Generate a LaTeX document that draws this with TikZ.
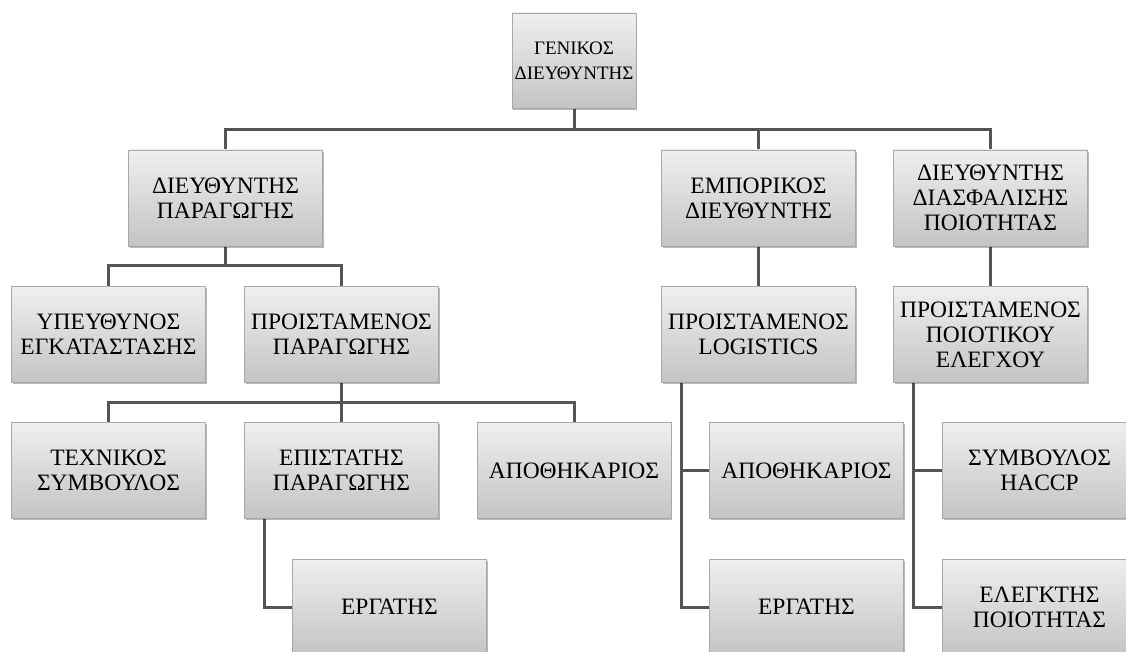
\documentclass[tikz,border=0pt]{standalone}
\usepackage{fontspec}
\setmainfont{Liberation Serif}
\usetikzlibrary{shadows,backgrounds}
\definecolor{boxtop}{HTML}{EFEFEF}
\definecolor{boxbot}{HTML}{C4C4C4}
\definecolor{boxline}{HTML}{A8A8A8}
\definecolor{wire}{HTML}{555555}
\tikzset{
  orgbox/.style={rectangle, draw=boxline, line width=0.8pt,
    top color=boxtop, bottom color=boxbot,
    minimum width=194pt, minimum height=96pt, inner sep=0pt,
    align=center, font=\fontsize{23.5}{25}\selectfont,
    drop shadow={shadow xshift=1pt, shadow yshift=-1.6pt, fill=black, opacity=0.28}},
  topbox/.style={orgbox, minimum width=124pt, minimum height=95pt,
    font=\fontsize{19}{25}\selectfont},
  wireline/.style={draw=wire, line width=3pt}
}
\begin{document}
\begin{tikzpicture}[x=1pt, y=-1pt]
\useasboundingbox (0,0) rectangle (1126,652);
\clip (0,0) rectangle (1126,652);

% level 0 and 1
\node[topbox] (gm) at (574,60.5) {ΓΕΝΙΚΟΣ\\ΔΙΕΥΘΥΝΤΗΣ};
\node[orgbox] (dp) at (225.5,198) {ΔΙΕΥΘΥΝΤΗΣ\\ΠΑΡΑΓΩΓΗΣ};
\node[orgbox] (ed) at (758.5,198) {ΕΜΠΟΡΙΚΟΣ\\ΔΙΕΥΘΥΝΤΗΣ};
\node[orgbox] (dq) at (990.5,198) {ΔΙΕΥΘΥΝΤΗΣ\\ΔΙΑΣΦΑΛΙΣΗΣ\\ΠΟΙΟΤΗΤΑΣ};

% level 2
\node[orgbox] (ye) at (108.5,334.5) {ΥΠΕΥΘΥΝΟΣ\\ΕΓΚΑΤΑΣΤΑΣΗΣ};
\node[orgbox] (pp) at (341.5,334.5) {ΠΡΟΙΣΤΑΜΕΝΟΣ\\ΠΑΡΑΓΩΓΗΣ};
\node[orgbox] (pl) at (758.5,334.5) {ΠΡΟΙΣΤΑΜΕΝΟΣ\\LOGISTICS};
\node[orgbox] (pq) at (990.5,334.5) {ΠΡΟΙΣΤΑΜΕΝΟΣ\\ΠΟΙΟΤΙΚΟΥ\\ΕΛΕΓΧΟΥ};

% level 3
\node[orgbox] (ts) at (108.5,470.5) {ΤΕΧΝΙΚΟΣ\\ΣΥΜΒΟΥΛΟΣ};
\node[orgbox] (ep) at (341.5,470.5) {ΕΠΙΣΤΑΤΗΣ\\ΠΑΡΑΓΩΓΗΣ};
\node[orgbox] (ap1) at (574,470.5) {ΑΠΟΘΗΚΑΡΙΟΣ};
\node[orgbox] (ap2) at (806.5,470.5) {ΑΠΟΘΗΚΑΡΙΟΣ};
\node[orgbox] (hc) at (1039.5,470.5) {ΣΥΜΒΟΥΛΟΣ\\HACCP};

% level 4
\node[orgbox] (er1) at (389.5,607) {ΕΡΓΑΤΗΣ};
\node[orgbox] (er2) at (806.5,607) {ΕΡΓΑΤΗΣ};
\node[orgbox] (eq) at (1039.5,607) {ΕΛΕΓΚΤΗΣ\\ΠΟΙΟΤΗΤΑΣ};

% bus levels
\coordinate (busA) at (0,130);
\coordinate (busB) at (0,265);
\coordinate (busC) at (0,402);

\begin{scope}[on background layer]
  % general manager to directors
  \draw[wireline] (gm.south) -- (gm.south |- busA);
  \draw[wireline] (dp.north) |- (dq.north |- busA) -- (dq.north);
  \draw[wireline] (ed.north) -- (ed.north |- busA);
  % production branch
  \draw[wireline] (dp.south) -- (dp.south |- busB);
  \draw[wireline] (ye.north) |- (pp.north |- busB) -- (pp.north);
  \draw[wireline] (pp.south) -- (pp.south |- busC);
  \draw[wireline] (ts.north) |- (ap1.north |- busC) -- (ap1.north);
  \draw[wireline] (ep.north) -- (ep.north |- busC);
  \draw[wireline] ([xshift=20pt]ep.south west) |- (er1.west);
  % commercial branch
  \draw[wireline] (ed.south) -- (pl.north);
  \draw[wireline] ([xshift=20pt]pl.south west) |- (er2.west);
  \draw[wireline] ([xshift=20pt]pl.south west) |- (ap2.west);
  % quality branch
  \draw[wireline] (dq.south) -- (pq.north);
  \draw[wireline] ([xshift=20pt]pq.south west) |- (eq.west);
  \draw[wireline] ([xshift=20pt]pq.south west) |- (hc.west);
\end{scope}
\end{tikzpicture}
\end{document}
